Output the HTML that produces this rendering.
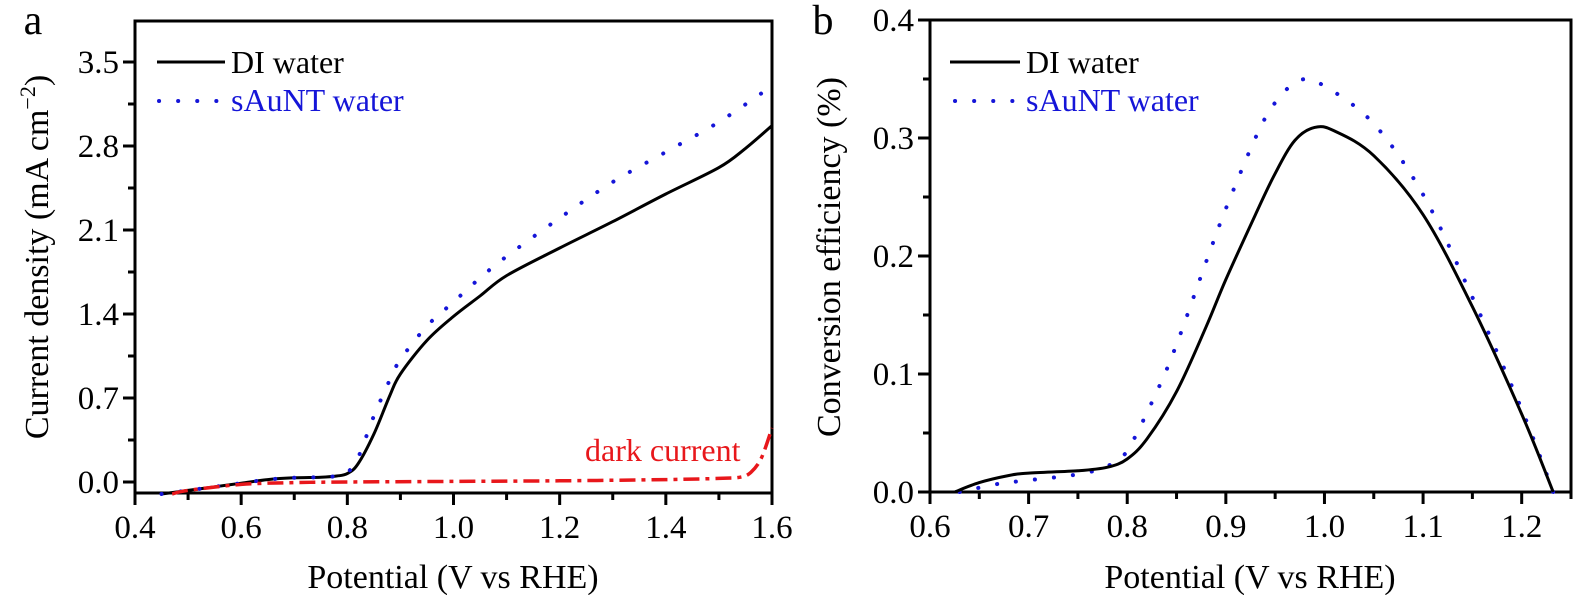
<!DOCTYPE html><html><head><style>body{margin:0;background:#fff}svg{display:block}text{font-family:"Liberation Serif",serif}</style></head><body>
<svg id="s" width="1575" height="595" xmlns="http://www.w3.org/2000/svg"></svg>
<script>
const s=document.getElementById('s');let h='';
function P(pts,fx,fy){const q=pts.map(p=>[fx(p[0]),fy(p[1])]);let d='M'+q[0][0].toFixed(1)+','+q[0][1].toFixed(1);
for(let i=0;i<q.length-1;i++){const p0=q[Math.max(0,i-1)],p1=q[i],p2=q[i+1],p3=q[Math.min(q.length-1,i+2)];
const c1=[p1[0]+(p2[0]-p0[0])/6,p1[1]+(p2[1]-p0[1])/6],c2=[p2[0]-(p3[0]-p1[0])/6,p2[1]-(p3[1]-p1[1])/6];
d+=` C${c1[0].toFixed(1)},${c1[1].toFixed(1)} ${c2[0].toFixed(1)},${c2[1].toFixed(1)} ${p2[0].toFixed(1)},${p2[1].toFixed(1)}`;}return d;}
const TS=33, AT=34, LG=32;
// panel a
const ax=v=>135+(v-0.4)*(637/1.2), ay=j=>482-j*120;
h+=`<rect x="135" y="21" width="637" height="472" fill="none" stroke="#000" stroke-width="3"/>`;
for(let i=0;i<=12;i++){let x=135+i*637/12;h+=`<line x1="${x}" y1="493" x2="${x}" y2="${i%2?500:505}" stroke="#000" stroke-width="3"/>`;if(i%2==0)h+=`<text x="${x}" y="538" font-size="${TS}" text-anchor="middle">${(0.4+i*0.1).toFixed(1)}</text>`;}
for(let i=0;i<=10;i++){let y=482-i*42;if(y<21)break;h+=`<line x1="135" y1="${y}" x2="${i%2?128:123}" y2="${y}" stroke="#000" stroke-width="3"/>`;if(i%2==0)h+=`<text x="119" y="${y+11}" font-size="${TS}" text-anchor="end">${(i*0.35).toFixed(1)}</text>`;}
h+=`<text x="33" y="34" font-size="42" text-anchor="middle">a</text>`;
h+=`<text x="453" y="588" font-size="${AT}" text-anchor="middle">Potential (V vs RHE)</text>`;
h+=`<text transform="translate(48,257) rotate(-90)" font-size="${AT}" text-anchor="middle">Current density (mA cm<tspan dy="-13" font-size="22">−2</tspan><tspan dy="13">)</tspan></text>`;
const A1=[[0.45,-0.1],[0.5,-0.07],[0.55,-0.04],[0.6,-0.01],[0.65,0.02],[0.7,0.035],[0.75,0.04],[0.78,0.05],[0.8,0.07],[0.82,0.15],[0.85,0.4],[0.88,0.72],[0.9,0.9],[0.95,1.18],[1.0,1.38],[1.05,1.55],[1.1,1.72],[1.2,1.95],[1.3,2.17],[1.4,2.4],[1.5,2.62],[1.55,2.78],[1.6,2.97]];
const A2=[[0.45,-0.1],[0.5,-0.07],[0.55,-0.04],[0.6,-0.01],[0.65,0.02],[0.7,0.035],[0.75,0.04],[0.78,0.05],[0.8,0.08],[0.82,0.2],[0.85,0.55],[0.88,0.85],[0.9,1.02],[0.95,1.3],[1.0,1.5],[1.05,1.7],[1.1,1.88],[1.2,2.2],[1.3,2.5],[1.4,2.75],[1.5,3.0],[1.6,3.3]];
const A3=[[0.47,-0.1],[0.5,-0.07],[0.6,-0.02],[0.7,-0.005],[0.8,0],[1.0,0.005],[1.2,0.01],[1.4,0.02],[1.5,0.03],[1.54,0.04],[1.56,0.08],[1.58,0.2],[1.6,0.45]];
h+=`<path d="${P(A1,ax,ay)}" fill="none" stroke="#000" stroke-width="3"/>`;
h+=`<path d="${P(A2,ax,ay)}" fill="none" stroke="#1515d8" stroke-width="4" stroke-dasharray="0.1 19" stroke-linecap="round"/>`;
h+=`<path d="${P(A3,ax,ay)}" fill="none" stroke="#e8171b" stroke-width="3.5" stroke-dasharray="16 6 4 6"/>`;
h+=`<line x1="157" y1="62" x2="225" y2="62" stroke="#000" stroke-width="3"/><text x="231" y="73" font-size="${LG}">DI water</text>`;
h+=`<line x1="159" y1="101" x2="225" y2="101" stroke="#1515d8" stroke-width="4" stroke-dasharray="0.1 19" stroke-linecap="round"/><text x="231" y="111" font-size="${LG}" fill="#1515d8">sAuNT water</text>`;
h+=`<text x="585" y="461" font-size="${LG}" fill="#e8171b">dark current</text>`;
// panel b
const bx=v=>930+(v-0.6)*(641/0.65), by=c=>492-c*1180;
h+=`<rect x="930" y="20" width="641" height="472" fill="none" stroke="#000" stroke-width="3"/>`;
for(let i=0;i<=13;i++){let x=930+i*641/13;h+=`<line x1="${x}" y1="492" x2="${x}" y2="${i%2?499:504}" stroke="#000" stroke-width="3"/>`;if(i%2==0&&i<13)h+=`<text x="${x}" y="537" font-size="${TS}" text-anchor="middle">${(0.6+i*0.05).toFixed(1)}</text>`;}
for(let i=0;i<=8;i++){let y=492-i*59;h+=`<line x1="930" y1="${y}" x2="${i%2?923:918}" y2="${y}" stroke="#000" stroke-width="3"/>`;if(i%2==0)h+=`<text x="914" y="${y+11}" font-size="${TS}" text-anchor="end">${(i*0.05).toFixed(1)}</text>`;}
h+=`<text x="823" y="34" font-size="42" text-anchor="middle">b</text>`;
h+=`<text x="1250" y="588" font-size="${AT}" text-anchor="middle">Potential (V vs RHE)</text>`;
h+=`<text transform="translate(840,257) rotate(-90)" font-size="${AT}" text-anchor="middle">Conversion efficiency (%)</text>`;
const B1=[[0.625,0],[0.65,0.008],[0.68,0.014],[0.7,0.016],[0.75,0.018],[0.78,0.021],[0.8,0.028],[0.82,0.045],[0.85,0.085],[0.88,0.14],[0.9,0.18],[0.93,0.235],[0.95,0.27],[0.97,0.298],[0.99,0.309],[1.01,0.306],[1.05,0.285],[1.1,0.235],[1.15,0.157],[1.2,0.066],[1.232,0]];
const B2=[[0.63,0],[0.67,0.007],[0.7,0.01],[0.75,0.015],[0.78,0.022],[0.8,0.035],[0.83,0.085],[0.85,0.125],[0.88,0.195],[0.9,0.24],[0.93,0.3],[0.95,0.33],[0.975,0.349],[1.0,0.344],[1.05,0.312],[1.1,0.252],[1.15,0.165],[1.2,0.07],[1.232,0]];
h+=`<path d="${P(B2,bx,by)}" fill="none" stroke="#1515d8" stroke-width="4" stroke-dasharray="0.1 19" stroke-linecap="round"/>`;
h+=`<path d="${P(B1,bx,by)}" fill="none" stroke="#000" stroke-width="3"/>`;
h+=`<line x1="950" y1="62" x2="1020" y2="62" stroke="#000" stroke-width="3"/><text x="1026" y="73" font-size="${LG}">DI water</text>`;
h+=`<line x1="955" y1="101" x2="1020" y2="101" stroke="#1515d8" stroke-width="4" stroke-dasharray="0.1 19" stroke-linecap="round"/><text x="1026" y="111" font-size="${LG}" fill="#1515d8">sAuNT water</text>`;
s.innerHTML=h;
</script></body></html>
